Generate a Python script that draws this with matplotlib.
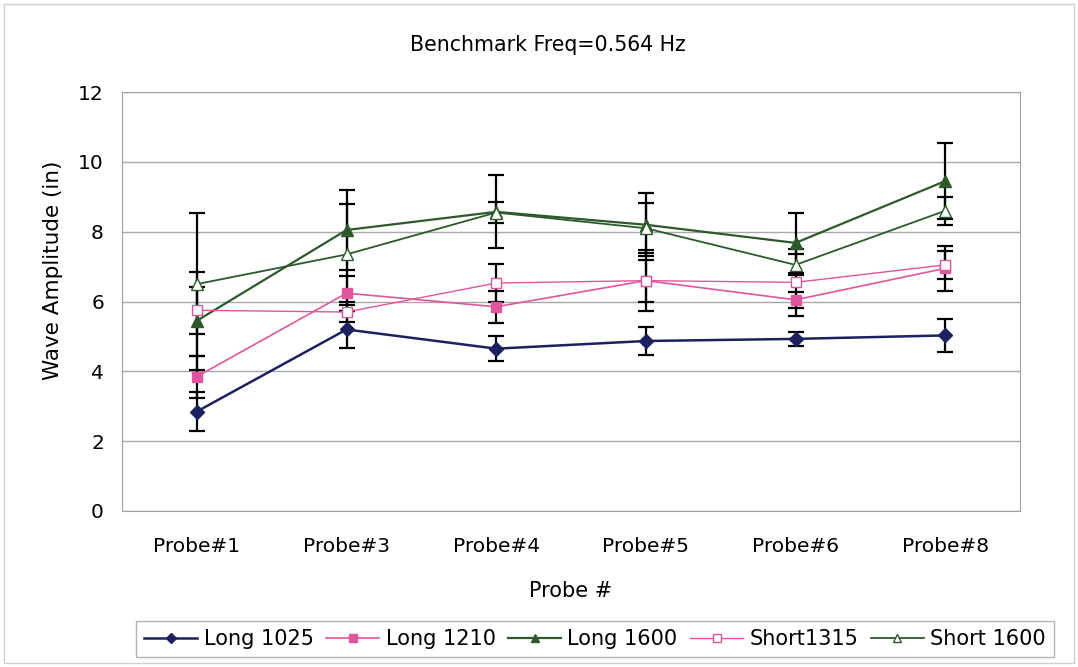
import matplotlib
matplotlib.use("Agg")
from matplotlib import pyplot as plt
from matplotlib.patches import Rectangle
import numpy as np

plt.rcParams['font.family'] = ['DejaVu Sans']

probes = ["Probe#1", "Probe#3", "Probe#4", "Probe#5", "Probe#6", "Probe#8"]

long1025 = [2.85, 5.2, 4.65, 4.87, 4.93, 5.03]
long1025_err = [0.55, 0.53, 0.35, 0.4, 0.2, 0.47]
long1210 = [3.85, 6.24, 5.85, 6.6, 6.05, 6.95]
long1210_err = [0.6, 0.5, 0.46, 0.6, 0.23, 0.65]
long1600 = [5.45, 8.05, 8.57, 8.2, 7.68, 9.45]
long1600_err = [1.4, 1.15, 1.05, 0.9, 0.85, 1.08]
short1315 = [5.75, 5.7, 6.53, 6.6, 6.55, 7.05]
short1315_err = [0.68, 0.3, 0.55, 0.87, 0.95, 0.4]
short1600 = [6.5, 7.35, 8.55, 8.1, 7.05, 8.6]
short1600_err = [2.05, 1.45, 0.3, 0.72, 0.3, 0.4]

navy = "#1c2260"
pink = "#e0569c"
green = "#2d5a2a"

fig = plt.figure(figsize=(10.78, 6.67), dpi=100)
fig.patches.append(Rectangle((0.004, 0.006), 0.992, 0.988, transform=fig.transFigure,
                             fill=False, ec="#d0d0d0", lw=1))
ax = fig.add_axes([0.1132, 0.2339, 0.833, 0.628])

x = np.arange(len(probes))
series = [
    ("Long 1025", long1025, long1025_err, dict(color=navy, marker="D", ms=7, mfc=navy, mec=navy, lw=1.8)),
    ("Long 1210", long1210, long1210_err, dict(color=pink, marker="s", ms=7, mfc=pink, mec=pink, lw=1.2)),
    ("Long 1600", long1600, long1600_err, dict(color=green, marker="^", ms=8, mfc=green, mec=green, lw=1.6)),
    ("Short1315", short1315, short1315_err, dict(color=pink, marker="s", ms=7, mfc="white", mec=pink, lw=1.0)),
    ("Short 1600", short1600, short1600_err, dict(color=green, marker="^", ms=8, mfc="white", mec=green, lw=1.3)),
]
# error bars first, lines and markers on top
for name, vals, err, st in series:
    ax.errorbar(x, vals, yerr=err, fmt="none", ecolor="black", elinewidth=1.6,
                capsize=5.5, capthick=1.6, zorder=2)
for name, vals, err, st in series:
    ax.plot(x, vals, label=name, zorder=3, **st)

ax.set_xlim(-0.5, len(probes) - 0.5)
ax.set_ylim(0, 12)
ax.set_yticks(np.arange(0, 13, 2))
ax.set_xticks(x)
ax.set_xticklabels(probes)
ax.tick_params(axis="x", labelsize=14.5, length=0, pad=19)
ax.tick_params(axis="y", labelsize=14.5, length=0, pad=13)
ax.grid(axis="y", color="#a8a8a8", lw=1)
ax.set_axisbelow(True)
for s in ax.spines.values():
    s.set_color("#a0a0a0")
ax.set_xlabel("Probe #", fontsize=15)
ax.xaxis.set_label_coords(0.5, -0.168)
ax.set_ylabel("Wave Amplitude (in)", fontsize=15.5)
ax.yaxis.set_label_coords(-0.066, 0.575)
fig.text(0.508, 0.933, "Benchmark Freq=0.564 Hz", ha="center", va="center", fontsize=14.8)

leg = fig.legend(loc="center", bbox_to_anchor=(0.552, 0.042), ncol=5, fontsize=15,
                 frameon=True, fancybox=False, edgecolor="#a0a0a0", handlelength=2.55,
                 handletextpad=0.3, columnspacing=0.6, borderpad=0.4, markerscale=0.75)
leg.get_frame().set_linewidth(1)

fig.savefig("out.png", dpi=100)
